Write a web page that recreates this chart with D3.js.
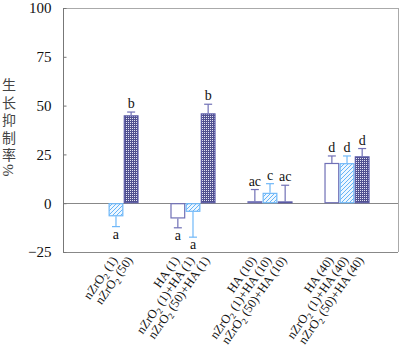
<!DOCTYPE html>
<html><head><meta charset="utf-8">
<script src="https://cdn.jsdelivr.net/npm/d3@7"></script>
<style>html,body{margin:0;padding:0;background:#fff;}svg{display:block;}</style>
</head><body>
<svg id="c" width="401" height="359"></svg>
<script>
// ---- data ----
const groups = ["G1", "G2", "G3", "G4"];
const seriesNames = ["HA", "nZrO2(1)+HA", "nZrO2(50)+HA"];
const haValues = [null, -7.8, 1.0, 20.6];
const haErrors = [null, 4.8, 6.0, 3.6];
const zr1Values = [-6.7, -4.4, 5.3, 20.5];
const zr1Errors = [5.3, 13.0, 4.7, 3.7];
const zr50Values = [45.0, 46.0, 0.9, 24.0];
const zr50Errors = [1.7, 4.7, 8.3, 4.0];
const haLetters = [null, "a", "ac", "d"];
const zr1Letters = ["a", "a", "c", "d"];
const zr50Letters = ["b", "b", "ac", "d"];
// x labels: [prefix, subscript, rest] per bar
const haLabels = [null, ["HA (1)"], ["HA (10)"], ["HA (40)"]];
const zr1Labels = [["nZrO", "2", " (1)"], ["nZrO", "2", " (1)+HA (1)"], ["nZrO", "2", " (1)+HA (10)"], ["nZrO", "2", " (1)+HA (40)"]];
const zr50Labels = [["nZrO", "2", " (50)"], ["nZrO", "2", " (50)+HA (1)"], ["nZrO", "2", " (50)+HA (10)"], ["nZrO", "2", " (50)+HA (40)"]];
const yTicks = [-25, 0, 25, 50, 75, 100];
const yTitle = "生长抑制率%";

const SERIF = "'Liberation Serif', 'Times New Roman', 'DejaVu Serif', serif";

// ---- layout ----
const L = 63, T = 8, R = 398, B = 252;
const svg = d3.select("#c");
const defs = svg.append("defs");
const hp = defs.append("pattern").attr("id","hatch").attr("patternUnits","userSpaceOnUse").attr("width",4).attr("height",4);
hp.append("rect").attr("width",4).attr("height",4).attr("fill","#eef7ff");
hp.append("path").attr("d","M-1,1 L1,-1 M0,4 L4,0 M3,5 L5,3").attr("stroke","#66b4f7").attr("stroke-width",1);
const cp = defs.append("pattern").attr("id","check").attr("patternUnits","userSpaceOnUse").attr("width",2).attr("height",2);
cp.append("rect").attr("width",2).attr("height",2).attr("fill","#50508f");
cp.append("rect").attr("width",1).attr("height",1).attr("fill","#e4e4f4");

const y = d3.scaleLinear().domain([-25, 100]).range([B, T]);
const x0 = d3.scaleBand().domain(groups).range([L, R]).paddingInner(0).paddingOuter(0.175);
const x1 = d3.scaleBand().domain(seriesNames).range([0, 45]).paddingInner(0.03);
const off = (x0.bandwidth() - 45) / 2 + 1;

const series = [
  {name: seriesNames[0], vals: haValues, errs: haErrors, lets: haLetters, labs: haLabels, fill: "#fff", stroke: "#7070b6", err: "#7070b6"},
  {name: seriesNames[1], vals: zr1Values, errs: zr1Errors, lets: zr1Letters, labs: zr1Labels, fill: "url(#hatch)", stroke: "#70b8f8", err: "#70b8f8"},
  {name: seriesNames[2], vals: zr50Values, errs: zr50Errors, lets: zr50Letters, labs: zr50Labels, fill: "url(#check)", stroke: "#5a5aa6", err: "#7070b6"}
];

// frame
svg.append("line").attr("x1",L).attr("x2",R).attr("y1",T+0.5).attr("y2",T+0.5).attr("stroke","#aaa");
svg.append("line").attr("x1",R+0.5).attr("x2",R+0.5).attr("y1",T).attr("y2",B).attr("stroke","#aaa");
svg.append("line").attr("x1",L).attr("x2",R).attr("y1",B+0.5).attr("y2",B+0.5).attr("stroke","#888");

const items = [];
series.forEach(s => groups.forEach((g, i) => {
  if (s.vals[i] === null) return;
  items.push({s, g, v: s.vals[i], e: s.errs[i], l: s.lets[i], lab: s.labs[i], x: x0(g) + off + x1(s.name), w: x1.bandwidth()});
}));

// zero line
svg.append("line").attr("x1",L).attr("x2",R).attr("y1",Math.round(y(0))+0.5).attr("y2",Math.round(y(0))+0.5).attr("stroke","#888");

const bars = svg.append("g");
items.forEach(d => {
  const top = Math.min(y(d.v), y(0)), h = Math.abs(y(d.v) - y(0));
  bars.append("rect").attr("x", d.x + 0.5).attr("y", top + 0.5).attr("width", d.w - 1).attr("height", Math.max(h - 1, 0.5))
    .attr("fill", d.s.fill).attr("stroke", d.s.stroke).attr("stroke-width", 1.2);
  const cx = d.x + d.w / 2;
  const ev = d.v >= 0 ? d.v + d.e : d.v - d.e;
  bars.append("line").attr("x1", cx).attr("x2", cx).attr("y1", y(d.v)).attr("y2", y(ev)).attr("stroke", d.s.err).attr("stroke-width", 1.2);
  bars.append("line").attr("x1", cx - 4).attr("x2", cx + 4).attr("y1", y(ev)).attr("y2", y(ev)).attr("stroke", d.s.err).attr("stroke-width", 1.2);
  bars.append("text").attr("x", cx).attr("y", d.v >= 0 ? y(ev) - 4 : y(ev) + 12)
    .attr("text-anchor", "middle").style("font-family", SERIF).style("font-size", "14px").attr("fill", "#111").text(d.l);
  const t = svg.append("text").attr("transform", `translate(${cx + 2},${B + 8}) rotate(-55)`)
    .attr("text-anchor", "end").style("font-family", SERIF).style("font-size", "12.5px").attr("fill", "#111");
  t.append("tspan").text(d.lab[0]);
  if (d.lab.length > 1) {
    t.append("tspan").style("font-size", "8.5px").attr("dy", 3).text(d.lab[1]);
    t.append("tspan").attr("dy", -3).text(d.lab[2]);
  }
});

// y axis
const yAxis = d3.axisLeft(y).tickValues(yTicks).tickSize(-3).tickPadding(12);
const ya = svg.append("g").attr("transform", `translate(${L + 0.5},0)`).call(yAxis);
ya.attr("font-family", SERIF).attr("font-size", 15);
ya.select(".domain").attr("stroke", "#777").attr("d", `M0,${T}V${B + 0.5}`);
ya.selectAll(".tick line").attr("stroke", "#777");
ya.selectAll(".tick text").style("font-family", SERIF).style("font-size", "15px").attr("fill", "#111");

// y title: one text, stacked characters via tspans, % glyph rotated
const chars = Array.from(yTitle);
const tt = svg.append("text").attr("fill", "#444").style("font-family", "'Noto Sans CJK SC', sans-serif").style("font-size", "14px");
chars.forEach((ch, i) => {
  if (/[\u4e00-\u9fff]/.test(ch)) {
    tt.append("tspan").attr("x", 2).attr("y", 90 + i * 17.5).text(ch);
  } else {
    tt.append("tspan").attr("x", 3).attr("y", 90 + (i - 1) * 17.5 + 4).attr("rotate", 90)
      .style("font-family", SERIF).style("font-size", "15px").text(ch);
  }
});
</script>
</body></html>
